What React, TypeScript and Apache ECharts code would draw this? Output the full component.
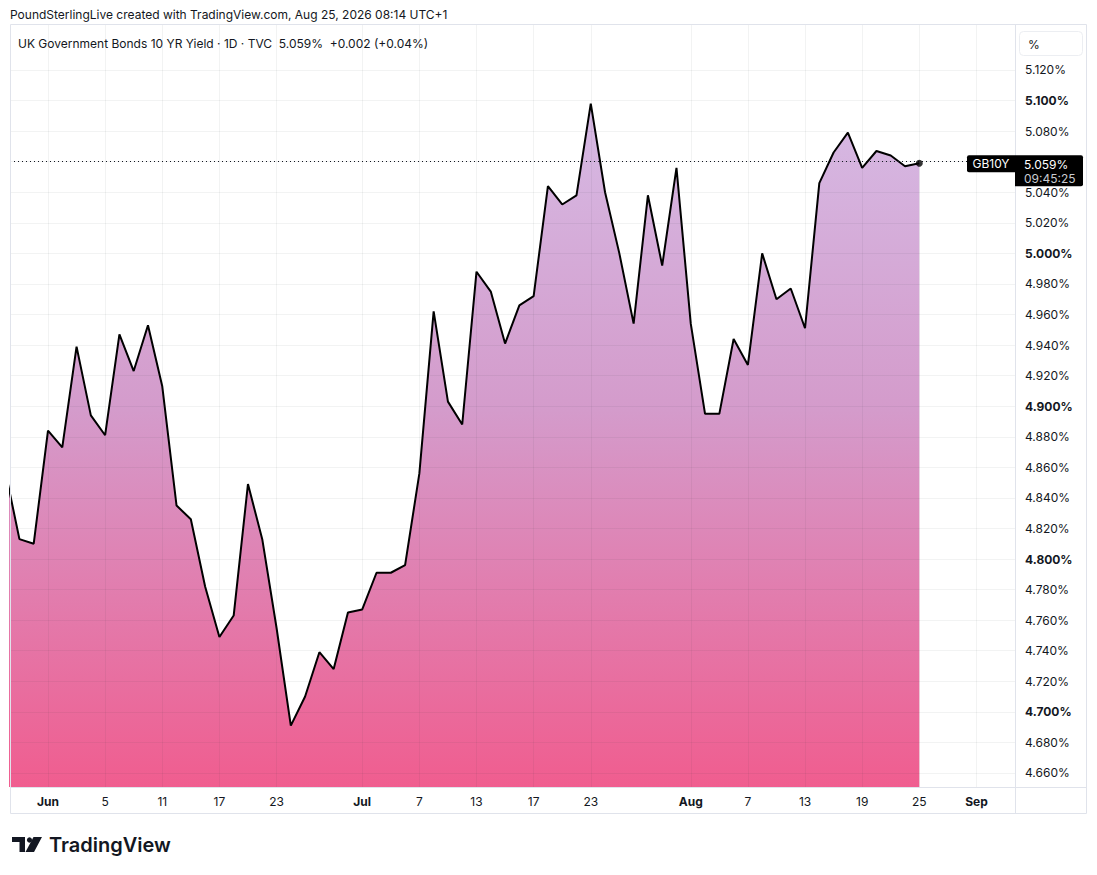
import React, { useEffect, useRef } from 'react';
import * as echarts from 'echarts';

const dates = [
  '05-27', '05-28', '05-29', '06-01', '06-02', '06-03', '06-04', '06-05', '06-08', '06-09',
  '06-10', '06-11', '06-12', '06-15', '06-16', '06-17', '06-18', '06-19', '06-22', '06-23',
  '06-24', '06-25', '06-26', '06-29', '06-30', '07-01', '07-02', '07-03', '07-06', '07-07',
  '07-08', '07-09', '07-10', '07-13', '07-14', '07-15', '07-16', '07-17', '07-20', '07-21',
  '07-22', '07-23', '07-24', '07-27', '07-28', '07-29', '07-30', '07-31', '08-03', '08-04',
  '08-05', '08-06', '08-07', '08-10', '08-11', '08-12', '08-13', '08-14', '08-17', '08-18',
  '08-19', '08-20', '08-21', '08-24', '08-25', '08-26', '08-27', '08-28', '09-01', '09-02',
  '09-03',
];

const yields = [
  4.858, 4.813, 4.810, 4.884, 4.873, 4.939, 4.894, 4.881, 4.947, 4.923,
  4.953, 4.913, 4.835, 4.826, 4.782, 4.749, 4.763, 4.849, 4.813, 4.755,
  4.691, 4.710, 4.739, 4.728, 4.765, 4.767, 4.791, 4.791, 4.796, 4.856,
  4.962, 4.903, 4.888, 4.988, 4.975, 4.941, 4.966, 4.972, 5.044, 5.032,
  5.038, 5.098, 5.040, 5.000, 4.954, 5.038, 4.992, 5.056, 4.954, 4.895,
  4.895, 4.944, 4.927, 5.000, 4.970, 4.977, 4.951, 5.046, 5.066, 5.079,
  5.056, 5.067, 5.064, 5.057, 5.059,
];

const xTickDates = ['06-01', '06-05', '06-11', '06-17', '06-23', '07-01', '07-07', '07-13', '07-17', '07-23', '08-03', '08-07', '08-13', '08-19', '08-25', '09-01'];
const xTickLabels = ['Jun', '5', '11', '17', '23', 'Jul', '7', '13', '17', '23', 'Aug', '7', '13', '19', '25', 'Sep'];
const monthLabels = ['Jun', 'Jul', 'Aug', 'Sep'];

const yTicks = [4.66, 4.68, 4.70, 4.72, 4.74, 4.76, 4.78, 4.80, 4.82, 4.84, 4.86, 4.88, 4.90, 4.92, 4.94, 4.96, 4.98, 5.00, 5.02, 5.04, 5.06, 5.08, 5.10, 5.12];
const boldYTicks = [4.70, 4.80, 4.90, 5.00, 5.10];

const headerText = 'PoundSterlingLive created with TradingView.com, Aug 25, 2026 08:14 UTC+1';
const legendText = 'UK Government Bonds 10 YR Yield · 1D · TVC  5.059%  +0.002 (+0.04%)';
const symbolName = 'GB10Y';
const countdown = '09:45:25';
const logoText = 'TradingView';

const FONT = 'Inter, "Noto Sans", Roboto, sans-serif';
const TEXT = '#131722';
const BORDER = '#e0e3eb';

export default function App() {
  const ref = useRef<HTMLDivElement>(null);

  useEffect(() => {
    document.body.style.margin = '0';
    if (!ref.current) return;
    const chart = echarts.init(ref.current, undefined, { renderer: 'svg' });

    const xIdx = xTickDates.map((d) => dates.indexOf(d));
    const seriesData = yields.map((v, i) => [i, v]);
    const last = seriesData[seriesData.length - 1];
    const lastPrice = yields[yields.length - 1];
    // the price label on the scale hides the tick label right under it
    const shownYTicks = yTicks.filter((v) => Math.abs(v - lastPrice) > 0.01);

    const gridLine = { color: 'rgba(42,46,57,0.06)', width: 1, type: 'solid' as const };
    const markData: any[] = [
      ...yTicks.map((v) => ({ yAxis: v, lineStyle: gridLine })),
      ...xIdx.map((i) => ({ xAxis: i, lineStyle: gridLine })),
      { yAxis: lastPrice, lineStyle: { color: TEXT, width: 1, type: [1, 3] } },
    ];

    chart.setOption({
      animation: false,
      backgroundColor: '#ffffff',
      grid: { left: 10, right: 82, top: 24, bottom: 88 },
      xAxis: {
        type: 'value',
        min: 0.34,
        max: 70.7,
        axisLine: { show: false },
        axisTick: { show: false },
        splitLine: { show: false },
        axisLabel: {
          customValues: xIdx,
          margin: 8,
          formatter: (v: number) => {
            const k = xIdx.indexOf(Math.round(v));
            const t = k >= 0 ? xTickLabels[k] : '';
            return monthLabels.includes(t) ? `{m|${t}}` : `{d|${t}}`;
          },
          rich: {
            m: { fontFamily: FONT, fontSize: 12, fontWeight: 'bold', color: TEXT },
            d: { fontFamily: FONT, fontSize: 12, color: TEXT },
          },
        },
      },
      yAxis: {
        type: 'value',
        position: 'right',
        min: 4.6508,
        max: 5.1501,
        axisLine: { show: false },
        axisTick: { show: false },
        splitLine: { show: false },
        axisLabel: {
          customValues: shownYTicks,
          margin: 10,
          align: 'left',
          formatter: (v: number) => {
            const s = v.toFixed(3) + '%';
            return boldYTicks.some((b) => Math.abs(b - v) < 1e-6) ? `{b|${s}}` : `{n|${s}}`;
          },
          rich: {
            b: { fontFamily: FONT, fontSize: 12, fontWeight: 'bold', color: TEXT },
            n: { fontFamily: FONT, fontSize: 12, color: TEXT },
          },
        },
      },
      series: [
        {
          type: 'line',
          data: seriesData,
          symbol: 'none',
          lineStyle: { color: '#000000', width: 2 },
          areaStyle: {
            origin: 'start',
            opacity: 1,
            color: new echarts.graphic.LinearGradient(0, 0, 0, 1, [
              { offset: 0, color: '#d6bae4' },
              { offset: 0.45, color: '#d49bcb' },
              { offset: 1, color: '#f05d8f' },
            ]),
          },
          markLine: {
            silent: true,
            symbol: 'none',
            label: { show: false },
            animation: false,
            data: markData,
          },
          z: 2,
        },
        {
          type: 'scatter',
          data: [last],
          symbol: 'circle',
          symbolSize: 7,
          itemStyle: { color: '#000000' },
          z: 5,
        },
      ],
    });

    const py = chart.convertToPixel({ yAxisIndex: 0 }, lastPrice) as number;

    chart.setOption({
      graphic: [
        // frame
        { type: 'rect', shape: { x: 10.5, y: 24.5, width: 1076, height: 789 }, style: { fill: 'none', stroke: BORDER, lineWidth: 1 }, z: 10, silent: true },
        { type: 'line', shape: { x1: 1015.5, y1: 24, x2: 1015.5, y2: 814 }, style: { stroke: BORDER, lineWidth: 1 }, z: 10, silent: true },
        { type: 'line', shape: { x1: 10, y1: 787.5, x2: 1087, y2: 787.5 }, style: { stroke: BORDER, lineWidth: 1 }, z: 10, silent: true },
        // header
        { type: 'text', x: 10, y: 14, style: { text: headerText, font: `12px ${FONT}`, fill: TEXT, textVerticalAlign: 'middle' }, z: 20 },
        { type: 'text', x: 18, y: 43, style: { text: legendText, font: `12px ${FONT}`, fill: TEXT, textVerticalAlign: 'middle' }, z: 20 },
        // % button
        { type: 'rect', shape: { x: 1019.5, y: 31.5, width: 63, height: 24, r: 4 }, style: { fill: '#ffffff', stroke: '#eceef2', lineWidth: 1 }, z: 20 },
        { type: 'text', x: 1028, y: 44, style: { text: '%', font: `12px ${FONT}`, fill: TEXT, textVerticalAlign: 'middle' }, z: 21 },
        // price labels
        { type: 'rect', shape: { x: 967, y: py - 8, width: 48, height: 17, r: [2, 0, 0, 2] }, style: { fill: '#000000' }, z: 20 },
        { type: 'text', x: 991, y: py + 0.5, style: { text: symbolName, font: `12px ${FONT}`, fill: '#ffffff', textAlign: 'center', textVerticalAlign: 'middle' }, z: 21 },
        { type: 'rect', shape: { x: 1015, y: py - 8, width: 68, height: 31, r: [0, 2, 2, 0] }, style: { fill: '#000000' }, z: 20 },
        { type: 'text', x: 1024, y: py + 1, style: { text: lastPrice.toFixed(3) + '%', font: `12px ${FONT}`, fill: '#ffffff', textVerticalAlign: 'middle' }, z: 21 },
        { type: 'text', x: 1024, y: py + 15, style: { text: countdown, font: `12px ${FONT}`, fill: '#c9cbd1', textVerticalAlign: 'middle' }, z: 21 },
        // logo
        { type: 'rect', shape: { x: 12, y: 837, width: 13, height: 5 }, style: { fill: TEXT }, z: 20 },
        { type: 'rect', shape: { x: 19.5, y: 837, width: 5.5, height: 15 }, style: { fill: TEXT }, z: 20 },
        { type: 'circle', shape: { cx: 29.5, cy: 840, r: 2.6 }, style: { fill: TEXT }, z: 20 },
        { type: 'polygon', shape: { points: [[33.5, 837], [42, 837], [34, 852], [25.5, 852]] }, style: { fill: TEXT }, z: 20 },
        { type: 'text', x: 49, y: 845, style: { text: logoText, font: `600 20px ${FONT}`, fill: TEXT, textVerticalAlign: 'middle' }, z: 20 },
      ],
    });

    return () => chart.dispose();
  }, []);

  return <div ref={ref} style={{ width: 1097, height: 875 }} />;
}
